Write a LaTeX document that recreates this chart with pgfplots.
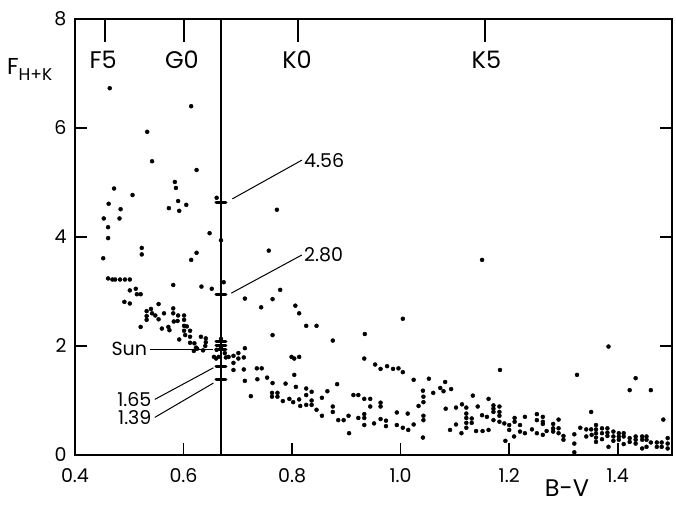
\documentclass[border=0pt]{standalone}
\usepackage{pgfplots}
\pgfplotsset{compat=1.18}
\usepackage{fontspec}
\setmainfont{Poppins}
\begin{document}
\begin{tikzpicture}
\begin{axis}[
  scale only axis, width=597pt, height=436pt,
  at={(0,0)}, anchor=south west,
  xmin=0.4, xmax=1.5, ymin=0, ymax=8,
  axis line style={line width=1.6pt},
  every tick/.style={black, line width=1.6pt},
  major tick length=12pt,
  tick align=inside,
  xtick={0.4,0.6,0.8,1.0,1.2,1.4},
  ytick={0,2,4,6,8},
  xtick pos=bottom,
  ytick pos=both,
  yticklabel pos=left,
  /pgf/number format/assume math mode=true,
  xticklabel style={/pgf/number format/fixed, /pgf/number format/fixed zerofill, /pgf/number format/precision=1, yshift=-10pt},
  yticklabel style={/pgf/number format/fixed, /pgf/number format/precision=0, xshift=-5pt},
  ticklabel style={font=\fontsize{19}{19}\selectfont},
  clip=false,
]
% vertical line at solar B-V
\addplot[black, line width=1.3pt] coordinates {(0.669,0) (0.669,8)};
% stars
\addplot[only marks, mark=*, mark size=2pt, black] table {
x y
0.464 6.73
0.614 6.40
0.533 5.93
0.542 5.39
0.624 5.23
0.472 4.89
0.506 4.77
0.584 5.01
0.586 4.90
0.462 4.61
0.484 4.51
0.590 4.66
0.605 4.59
0.573 4.53
0.592 4.48
0.661 4.72
0.453 4.34
0.482 4.34
0.461 4.18
0.461 3.98
0.648 4.07
0.523 3.80
0.523 3.68
0.452 3.61
0.624 3.71
0.614 3.58
0.669 3.94
0.674 3.17
0.772 4.50
0.757 3.75
1.150 3.58
0.461 3.24
0.469 3.22
0.474 3.22
0.483 3.22
0.492 3.22
0.501 3.22
0.581 3.12
0.633 3.09
0.652 3.05
0.501 3.02
0.512 3.05
0.514 2.95
0.521 2.95
0.491 2.81
0.501 2.78
0.554 2.77
0.581 2.69
0.540 2.68
0.532 2.64
0.532 2.55
0.532 2.48
0.542 2.60
0.548 2.56
0.554 2.49
0.564 2.60
0.581 2.60
0.590 2.56
0.589 2.46
0.582 2.45
0.601 2.56
0.601 2.48
0.521 2.35
0.560 2.32
0.572 2.35
0.574 2.29
0.601 2.37
0.601 2.28
0.606 2.36
0.612 2.28
0.603 2.20
0.612 2.17
0.592 2.12
0.612 2.06
0.632 2.17
0.641 2.14
0.641 2.07
0.620 2.05
0.623 1.97
0.619 1.91
0.625 1.95
0.640 2.00
0.636 1.92
0.661 1.93
0.656 1.80
0.660 1.77
0.665 1.80
0.669 2.13
0.669 1.97
0.676 1.87
0.678 1.79
0.683 1.80
0.692 1.82
0.701 1.87
0.692 1.69
0.692 1.56
0.701 1.77
0.711 1.79
0.713 1.96
0.711 1.57
0.713 1.36
0.724 1.08
0.713 2.87
0.743 2.71
0.764 2.86
0.778 3.03
0.806 2.74
0.813 2.60
0.826 2.37
0.845 2.37
0.764 2.20
0.875 2.10
0.934 2.22
0.933 1.77
0.799 1.80
0.804 1.77
0.813 1.80
0.804 1.47
0.953 1.66
0.963 1.58
0.975 1.63
0.986 1.58
0.996 1.59
1.004 1.52
1.004 2.50
1.024 1.38
1.052 1.40
0.735 1.59
0.744 1.59
0.736 1.39
0.754 1.42
0.764 1.32
0.763 1.14
0.763 1.07
0.773 1.14
0.773 1.07
0.783 0.99
0.795 1.03
0.802 0.97
0.813 1.02
0.815 0.90
0.826 0.92
0.826 1.10
0.826 1.22
0.836 1.16
0.836 1.00
0.836 0.92
0.845 0.83
0.855 1.05
0.855 0.72
0.865 1.17
0.875 0.89
0.875 0.79
0.883 1.30
0.885 0.64
0.895 0.64
0.904 0.72
0.905 0.40
0.913 1.10
0.922 1.10
0.922 0.68
0.933 1.03
0.933 0.75
0.933 0.68
0.933 0.55
0.944 1.03
0.944 0.89
0.951 0.58
0.963 0.96
0.963 0.89
0.963 0.66
0.973 0.63
0.973 0.53
0.993 0.78
0.993 0.55
0.788 1.31
0.807 1.25
1.004 0.50
1.013 0.76
1.014 0.46
1.024 0.56
1.073 1.23
1.079 1.17
1.082 1.34
1.093 1.21
1.060 1.14
1.041 1.18
1.042 1.07
1.042 0.97
1.033 0.90
1.042 0.72
1.042 0.64
1.041 0.32
1.083 0.85
1.091 0.46
1.102 0.87
1.102 0.56
1.113 0.93
1.112 0.40
1.121 0.87
1.121 0.76
1.121 0.68
1.121 0.59
1.121 0.50
1.131 0.67
1.131 0.59
1.133 1.09
1.139 0.44
1.142 0.89
1.150 0.73
1.159 0.70
1.151 0.44
1.162 1.03
1.162 0.46
1.171 0.91
1.171 0.85
1.171 0.79
1.171 0.64
1.182 0.89
1.182 0.79
1.182 0.72
1.182 0.61
1.183 1.56
1.191 0.58
1.193 0.26
1.200 0.55
1.200 0.46
1.209 0.34
1.210 0.68
1.210 0.61
1.220 0.55
1.220 0.43
1.229 0.70
1.229 0.40
1.242 0.47
1.251 0.75
1.251 0.64
1.251 0.40
1.262 0.70
1.262 0.61
1.262 0.57
1.262 0.37
1.269 0.44
1.281 0.57
1.281 0.49
1.281 0.43
1.291 0.65
1.291 0.49
1.291 0.40
1.300 0.35
1.300 0.28
1.320 0.38
1.320 0.21
1.320 0.05
1.325 1.47
1.331 0.50
1.342 0.47
1.342 0.34
1.351 0.79
1.351 0.47
1.352 0.37
1.360 0.55
1.360 0.47
1.360 0.40
1.360 0.32
1.360 0.24
1.371 0.49
1.371 0.40
1.371 0.29
1.381 0.49
1.381 0.41
1.381 0.35
1.383 1.99
1.383 0.15
1.392 0.43
1.392 0.34
1.392 0.26
1.402 0.40
1.402 0.34
1.402 0.28
1.411 0.40
1.411 0.34
1.411 0.20
1.422 1.19
1.422 0.31
1.422 0.24
1.433 1.41
1.433 0.34
1.433 0.28
1.433 0.21
1.445 0.34
1.445 0.28
1.445 0.12
1.453 0.34
1.453 0.28
1.453 0.15
1.461 1.19
1.461 0.23
1.472 0.23
1.472 0.15
1.481 0.23
1.481 0.15
1.484 0.65
1.492 0.31
1.492 0.21
1.492 0.12
};
% solar cycle values (bars on the line)
\addplot[only marks, mark=-, mark size=5pt, black, mark options={line width=3pt, line cap=round}] table {
x y
0.669 4.63
0.669 2.94
0.669 2.08
0.669 2.01
0.669 1.93
0.669 1.63
0.669 1.39
};
% spectral-type ticks on top
\draw[line width=2pt] (axis cs:0.455,8) -- (axis cs:0.455,7.58);
\draw[line width=2pt] (axis cs:0.601,8) -- (axis cs:0.601,7.58);
\draw[line width=2pt] (axis cs:0.811,8) -- (axis cs:0.811,7.58);
\draw[line width=2pt] (axis cs:1.156,8) -- (axis cs:1.156,7.58);
\node[font=\fontsize{24}{24}\selectfont] at (axis cs:0.452,7.25) {F5};
\node[font=\fontsize{24}{24}\selectfont] at (axis cs:0.597,7.25) {G0};
\node[font=\fontsize{24}{24}\selectfont] at (axis cs:0.809,7.25) {K0};
\node[font=\fontsize{24}{24}\selectfont] at (axis cs:1.158,7.25) {K5};
% annotations
\draw[line width=1pt] (axis cs:0.690,4.70) -- (axis cs:0.818,5.41);
\node[anchor=west, inner sep=1pt, font=\fontsize{19}{19}\selectfont] at (axis cs:0.820,5.41) {4.56};
\draw[line width=1pt] (axis cs:0.688,2.97) -- (axis cs:0.818,3.67);
\node[anchor=west, inner sep=1pt, font=\fontsize{19}{19}\selectfont] at (axis cs:0.820,3.67) {2.80};
\draw[line width=1pt] (axis cs:0.538,1.94) -- (axis cs:0.654,1.94);
\node[anchor=east, inner sep=1pt, font=\fontsize{19}{19}\selectfont] at (axis cs:0.535,1.94) {Sun};
\draw[line width=1pt] (axis cs:0.547,1.02) -- (axis cs:0.655,1.60);
\node[anchor=east, inner sep=1pt, font=\fontsize{19}{19}\selectfont] at (axis cs:0.543,1.01) {1.65};
\draw[line width=1pt] (axis cs:0.547,0.69) -- (axis cs:0.655,1.32);
\node[anchor=east, inner sep=1pt, font=\fontsize{19}{19}\selectfont] at (axis cs:0.543,0.68) {1.39};
% axis titles
\node[anchor=west, inner sep=0pt, font=\fontsize{23}{23}\selectfont] at (axis description cs:-0.114,0.885) {F\raisebox{-0.5ex}{\fontsize{17}{17}\selectfont H+K}};
\node[inner sep=0pt, font=\fontsize{24}{24}\selectfont] at (axis description cs:0.824,-0.076) {B-V};
\end{axis}
\pgfresetboundingbox
\path[use as bounding box] (-75pt,-49pt) rectangle (601pt,455pt);
\end{tikzpicture}
\end{document}
